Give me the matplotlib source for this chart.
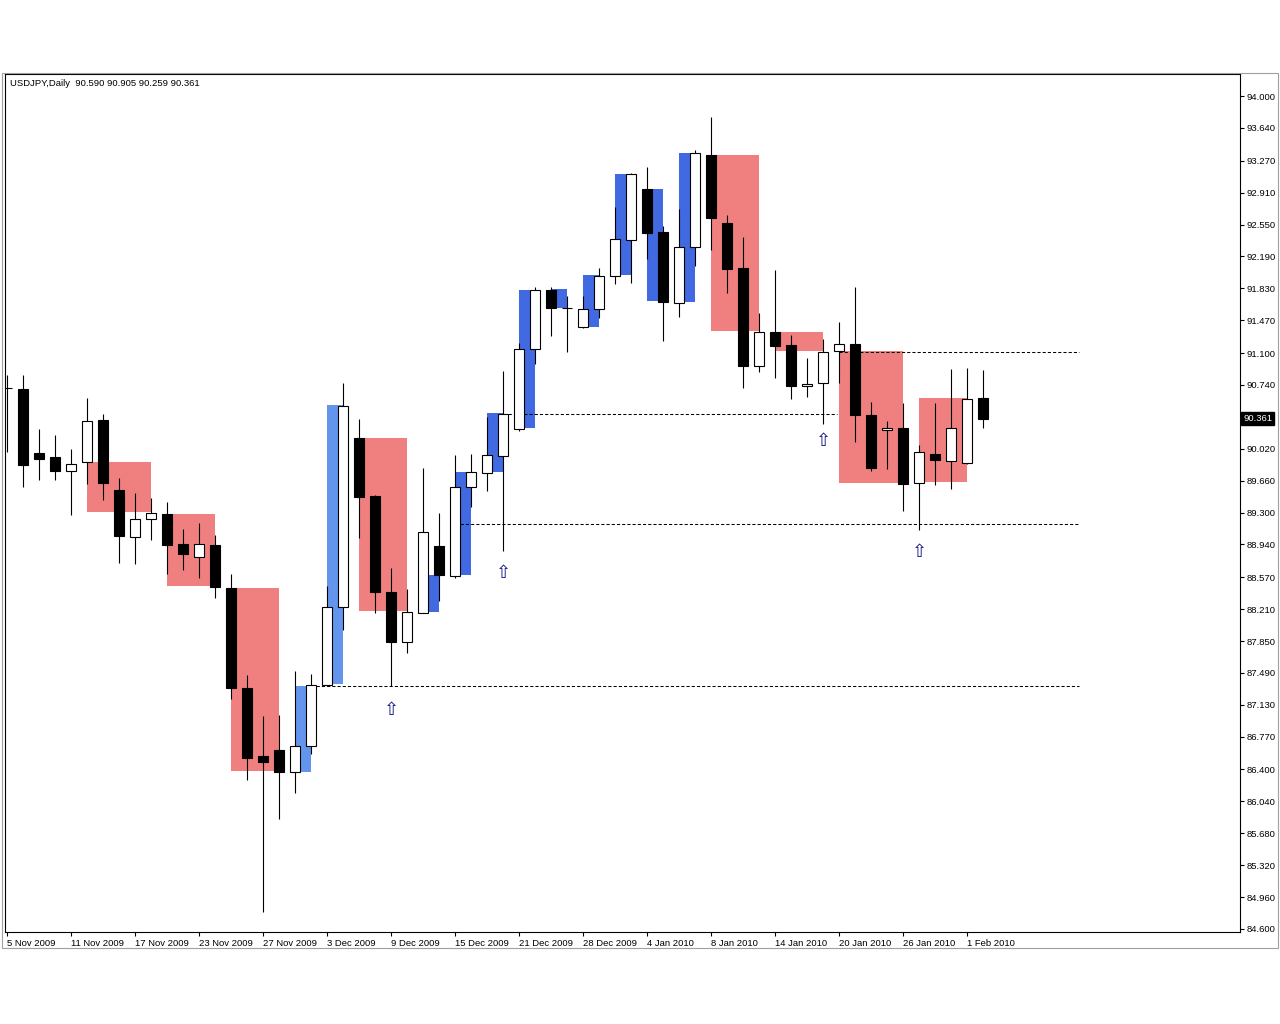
import numpy as np
import matplotlib
matplotlib.use("Agg")
import matplotlib.pyplot as plt
from matplotlib.patches import Rectangle

# USDJPY daily bars, 5 Nov 2009 .. 2 Feb 2010
opens = [90.701, 90.698, 89.975, 89.921, 89.771, 89.873, 90.347, 89.549, 89.025, 89.229,
         89.289, 88.950, 88.799, 88.938, 88.453, 87.319, 86.555, 86.619, 86.377, 86.664,
         87.349, 88.235, 90.144, 89.492, 88.404, 87.835, 88.167, 88.924, 88.580, 89.583,
         89.749, 89.936, 90.246, 91.149, 91.816, 91.612, 91.394, 91.601, 91.974, 92.381,
         92.949, 92.463, 91.669, 92.291, 93.333, 92.565, 92.057, 90.953, 91.342, 91.187,
         90.727, 90.765, 91.122, 91.198, 90.404, 90.226, 90.249, 89.636, 89.963, 89.880,
         89.861, 90.590]
highs = [90.848, 90.848, 90.246, 90.170, 90.020, 90.596, 90.407, 89.692, 89.515, 89.469,
         89.424, 89.119, 89.179, 89.051, 88.611, 87.470, 87.007, 87.018, 87.515, 87.481,
         88.467, 90.757, 90.351, 89.500, 88.675, 88.441, 89.797, 89.297, 89.944, 89.963,
         90.373, 90.901, 91.217, 91.850, 91.850, 91.744, 91.744, 92.057, 92.749, 93.130,
         93.194, 92.535, 92.723, 93.390, 93.766, 92.656, 92.410, 91.548, 92.034, 91.300,
         91.040, 91.255, 91.450, 91.850, 90.546, 90.328, 90.539, 90.060, 90.531, 90.916,
         90.935, 90.905]
lows = [89.978, 89.586, 89.665, 89.665, 89.270, 89.620, 89.439, 88.732, 88.716, 88.987,
        88.611, 88.656, 88.558, 88.336, 87.195, 86.276, 84.796, 85.846, 86.140, 86.574,
        87.346, 87.970, 89.014, 88.167, 87.345, 87.715, 88.167, 88.298, 88.562, 89.360,
        89.541, 88.863, 90.219, 90.972, 91.292, 91.111, 91.387, 91.492, 91.876, 91.895,
        92.158, 91.235, 91.506, 92.083, 92.263, 91.782, 90.704, 90.885, 90.820, 90.585,
        90.603, 90.298, 90.765, 90.094, 89.767, 89.786, 89.315, 89.108, 89.608, 89.560,
        89.850, 90.259]
closes = [90.701, 89.834, 89.907, 89.767, 89.850, 90.336, 89.631, 89.032, 89.229, 89.297,
          88.931, 88.829, 88.950, 88.456, 87.319, 86.535, 86.490, 86.377, 86.664, 87.349,
          88.235, 90.501, 89.473, 88.400, 87.835, 88.178, 89.082, 88.592, 89.590, 89.755,
          89.947, 90.415, 91.149, 91.808, 91.608, 91.605, 91.601, 91.974, 92.392, 93.115,
          92.456, 91.680, 92.291, 93.353, 92.625, 92.045, 90.953, 91.342, 91.179, 90.727,
          90.754, 91.116, 91.206, 90.399, 89.797, 90.257, 89.624, 89.986, 89.895, 90.257,
          90.585, 90.361]

date_labels = ["5 Nov 2009", "11 Nov 2009", "17 Nov 2009", "23 Nov 2009", "27 Nov 2009",
               "3 Dec 2009", "9 Dec 2009", "15 Dec 2009", "21 Dec 2009", "28 Dec 2009",
               "4 Jan 2010", "8 Jan 2010", "14 Jan 2010", "20 Jan 2010", "26 Jan 2010",
               "1 Feb 2010"]
price_labels = ["94.000", "93.640", "93.270", "92.910", "92.550", "92.190", "91.830",
                "91.470", "91.100", "90.740", "90.020", "89.660", "89.300", "88.940",
                "88.570", "88.210", "87.850", "87.490", "87.130", "86.770", "86.400",
                "86.040", "85.680", "85.320", "84.960", "84.600"]

# indicator boxes: start bar, end bar, top, bottom, kind
box_start = [5, 10, 14, 22, 44, 48, 52, 57, 18, 20, 26, 28, 30, 32, 34, 36, 38, 40, 42]
box_end = [9, 13, 17, 25, 47, 51, 56, 60, 19, 21, 27, 29, 31, 33, 35, 37, 39, 41, 43]
box_top = [89.873, 89.289, 88.453, 90.144, 93.333, 91.342, 91.122, 90.588, 87.345, 90.509,
           88.596, 89.760, 90.419, 91.808, 91.819, 91.978, 93.119, 92.949, 93.356]
box_bottom = [89.308, 88.467, 86.385, 88.185, 91.348, 91.122, 89.628, 89.642, 86.377, 87.365,
              88.174, 88.592, 89.755, 90.249, 91.608, 91.394, 91.981, 91.687, 91.676]
box_kind = ["down"] * 8 + ["up_old", "up_old"] + ["up"] * 9

# horizontal levels: price, from bar, to bar
level_price = [87.345, 89.176, 90.415, 91.116]
level_from = [19, 28, 31, 52]
level_to = [67, 67, 51.9, 67]

# up arrows: bar, price
arrow_bar = [24, 31, 51, 57]
arrow_price = [87.074, 88.622, 90.106, 88.856]

box_colors = {"down": "#f08080", "up_old": "#6495ed", "up": "#4169e1"}

plt.rcParams["font.family"] = ["Liberation Sans", "DejaVu Sans"]

fig = plt.figure(figsize=(12.8, 10.24), dpi=100)
ax = fig.add_axes([5 / 1280, (1024 - 932) / 1024, 1235 / 1280, 858 / 1024])

x = np.arange(len(opens))
o = np.array(opens)
c = np.array(closes)

for s, e, t, b, k in zip(box_start, box_end, box_top, box_bottom, box_kind):
    ax.add_patch(Rectangle((s, b), e - s, t - b, facecolor=box_colors[k],
                           edgecolor="none", zorder=1))

ax.hlines(level_price, level_from, level_to, colors="black", lw=0.75,
          linestyles=(0, (3, 2)), zorder=2)

ax.vlines(x, lows, highs, colors="black", lw=0.8, zorder=3)
body_col = np.where(c >= o, "white", "black")
ax.bar(x, np.abs(c - o), bottom=np.minimum(o, c), width=0.625, color=body_col,
       edgecolor="black", linewidth=0.8, zorder=4)

for b, p in zip(arrow_bar, arrow_price):
    ax.text(b, p, "\u21e7", ha="center", va="center", fontsize=13,
            color="#101080", family="DejaVu Sans", zorder=5)

ax.set_xlim(-0.125, 77.06)
ax.set_ylim(84.566, 94.249)

ax.set_xticks(np.arange(0, 61, 4))
ax.set_xticklabels(date_labels, fontsize=6.8)
for lab in ax.get_xticklabels():
    lab.set_ha("left")
ax.tick_params(axis="x", direction="out", length=3, pad=2, width=0.8)

ax.yaxis.tick_right()
ax.set_yticks([float(v) for v in price_labels])
ax.set_yticklabels(price_labels, fontsize=6.8)
ax.tick_params(axis="y", direction="out", length=3, pad=2, width=0.8)

for sp in ax.spines.values():
    sp.set_linewidth(0.8)
    sp.set_color("black")

last = closes[-1]
ax.text(1.0025, last, "%.3f" % last, transform=ax.get_yaxis_transform(),
        ha="left", va="center", fontsize=6.8, color="white",
        bbox=dict(boxstyle="square,pad=0.2", facecolor="black", edgecolor="black"))

ax.text(5 / 1235, 1 - 10 / 858, "USDJPY,Daily  %.3f %.3f %.3f %.3f" % (
    opens[-1], highs[-1], lows[-1], closes[-1]), transform=ax.transAxes,
    ha="left", va="center", fontsize=6.8)

fig.add_artist(Rectangle((2 / 1280, (1024 - 948) / 1024), 1276 / 1280, 875 / 1024,
                         transform=fig.transFigure, fill=False,
                         edgecolor="#a0a0a0", lw=0.8))

fig.savefig("out.png", dpi=100)
